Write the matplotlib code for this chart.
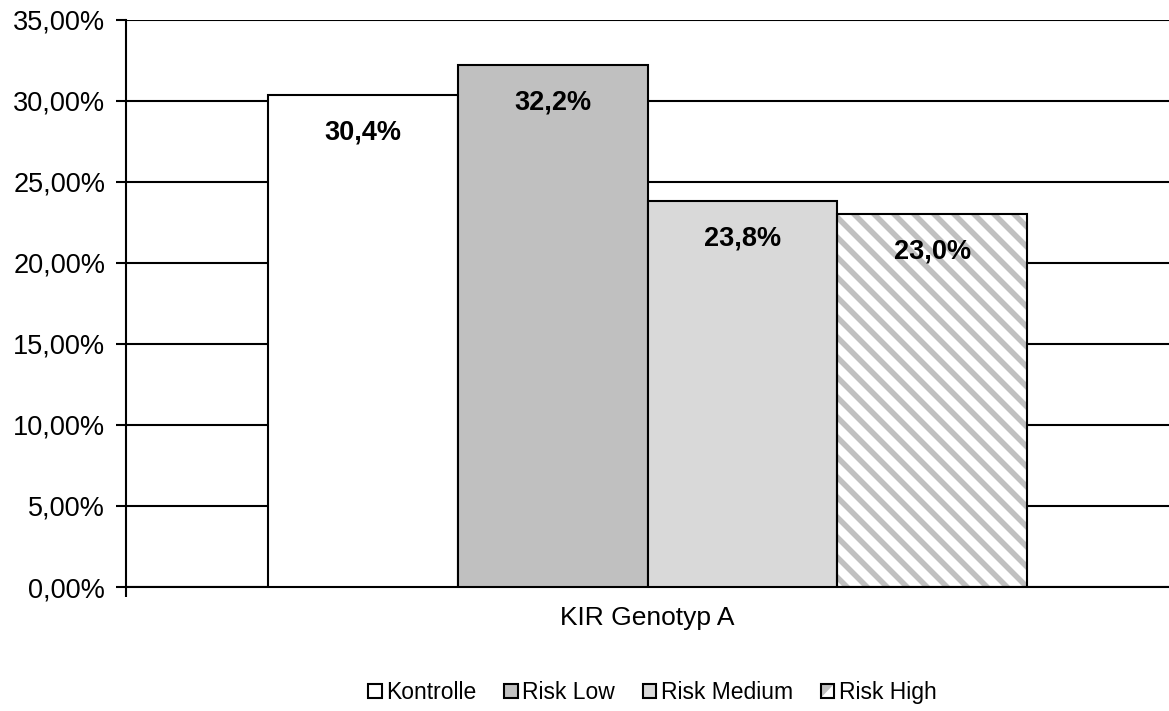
import matplotlib
matplotlib.use("Agg")
import matplotlib.pyplot as plt
from matplotlib.patches import Patch, Rectangle, Polygon
from matplotlib.legend_handler import HandlerBase
from matplotlib.backend_bases import GraphicsContextBase
from matplotlib.ticker import FuncFormatter, FixedLocator

plt.rcParams['font.family'] = ['Liberation Sans', 'DejaVu Sans']
plt.rcParams['hatch.linewidth'] = 4.0

# slightly finer stripe spacing than matplotlib's default hatch density
_base_hatch_path = GraphicsContextBase.get_hatch_path


def _finer_hatch_path(self, density=10.0):
    return _base_hatch_path(self, density)


GraphicsContextBase.get_hatch_path = _finer_hatch_path

category = "KIR Genotyp A"
series = ["Kontrolle", "Risk Low", "Risk Medium", "Risk High"]
values = [30.4, 32.2, 23.8, 23.0]
colors = ["#FFFFFF", "#C0C0C0", "#D9D9D9", "#FFFFFF"]
hatches = [None, None, None, "\\"]
hatch_color = "#C0C0C0"
yticks = [0, 5, 10, 15, 20, 25, 30, 35]


class HatchSwatch(HandlerBase):
    """Legend key: white square with a gray corner triangle and black border."""
    def create_artists(self, legend, orig_handle, xdescent, ydescent,
                       width, height, fontsize, trans):
        x0, y0 = -xdescent, -ydescent
        bg = Rectangle((x0, y0), width, height, facecolor='white',
                       edgecolor='none', transform=trans)
        tri = Polygon([[x0, y0 + height], [x0 + width, y0 + height], [x0, y0]],
                      closed=True, facecolor=hatch_color, edgecolor='none',
                      transform=trans)
        box = Rectangle((x0, y0), width, height, facecolor='none',
                        edgecolor='black', linewidth=1.5, transform=trans)
        return [bg, tri, box]


fig = plt.figure(figsize=(11.69, 7.11), dpi=100)
ax = fig.add_axes([0.1078, 0.1744, 0.8922, 0.7975])

width = 1.0
n = len(series)
offsets = [(i - (n - 1) / 2) * width for i in range(n)]

ax.set_ylim(0, 35)
ax.set_xlim(-2.745, 2.745)
ax.yaxis.set_major_locator(FixedLocator(yticks))
ax.yaxis.set_major_formatter(FuncFormatter(lambda v, p: f"{v:.2f}%".replace(".", ",")))
ax.grid(axis='y', color='black', linewidth=1.5, zorder=0)
ax.set_axisbelow(True)

handles = []
for x, v, c, h, name in zip(offsets, values, colors, hatches, series):
    if h:
        ax.bar(x, v, width, facecolor=c, edgecolor=hatch_color, hatch=h,
               linewidth=0.01, zorder=2)
        ax.bar(x, v, width, fill=False, edgecolor='black', linewidth=1.5, zorder=3)
    else:
        ax.bar(x, v, width, color=c, edgecolor='black', linewidth=1.5, zorder=3)
    ax.annotate(f"{v:.1f}%".replace(".", ","), xy=(x, v), xytext=(0, -27),
                textcoords='offset points', ha='center', va='center',
                fontsize=19.5, fontweight='bold', zorder=4)
    handles.append(Patch(facecolor=c, edgecolor='black', linewidth=1.5,
                         label=name))

for s in ['top', 'right']:
    ax.spines[s].set_visible(False)
ax.spines['left'].set_linewidth(1.5)
ax.spines['bottom'].set_linewidth(1.5)

ax.set_xticks([0])
ax.set_xticklabels([category], fontsize=19)
ax.tick_params(axis='x', length=0, pad=14)
ax.xaxis.set_minor_locator(FixedLocator([-2.745]))
ax.tick_params(axis='x', which='minor', length=7, width=1.5, direction='out')
ax.tick_params(axis='y', length=7, width=1.5, direction='out', labelsize=19.5, pad=8)

fig.legend(handles=handles, loc='center', bbox_to_anchor=(0.558, 0.026),
           ncol=4, frameon=False, fontsize=16.5, handlelength=0.6,
           handleheight=0.6, handletextpad=0.2, columnspacing=1.2,
           handler_map={handles[3]: HatchSwatch()})

fig.savefig("out.png", dpi=100)
